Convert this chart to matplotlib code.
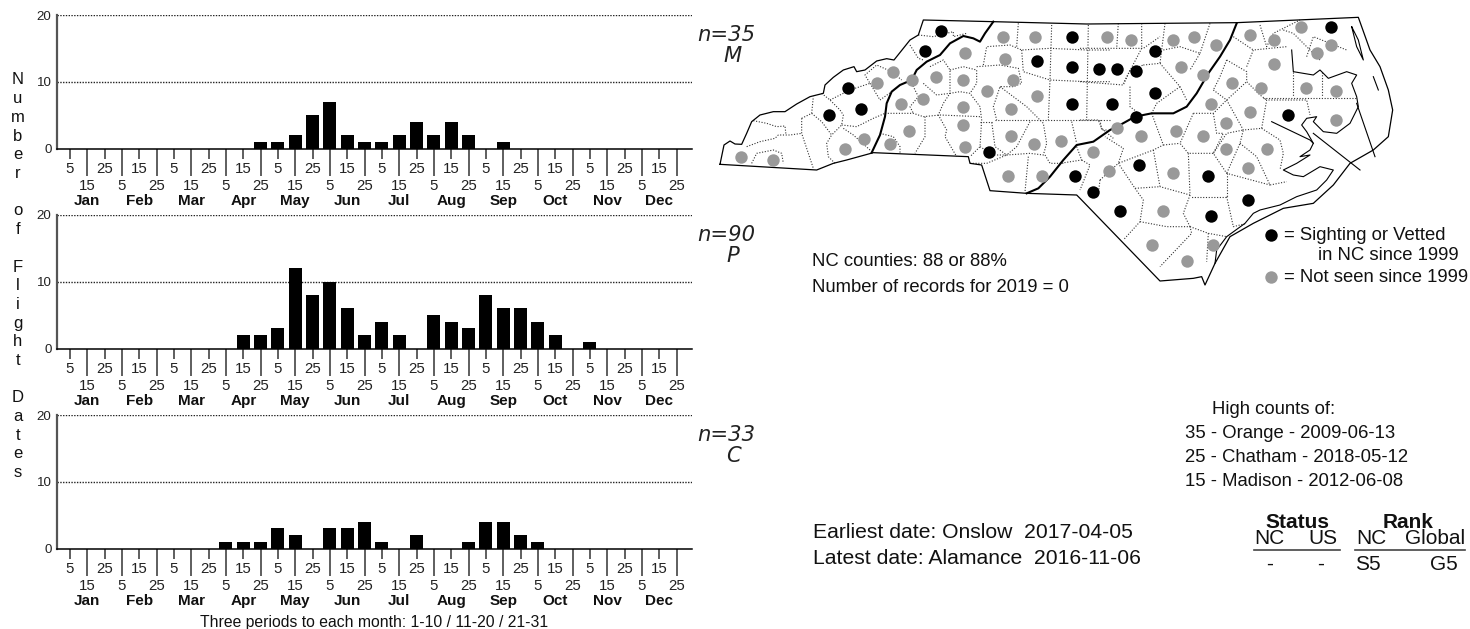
import matplotlib
matplotlib.use('Agg')
import matplotlib.pyplot as plt
from matplotlib.transforms import blended_transform_factory

plt.rcParams['font.family'] = ['Liberation Sans', 'DejaVu Sans']

W, H = 1470, 629

period_ticks = [5, 15, 25] * 12
months = ['Jan', 'Feb', 'Mar', 'Apr', 'May', 'Jun', 'Jul', 'Aug', 'Sep', 'Oct', 'Nov', 'Dec']

counts_m = [0]*11 + [1, 1, 2, 5, 7, 2, 1, 1, 2, 4, 2, 4, 2, 0, 1] + [0]*10
counts_p = [0]*10 + [2, 2, 3, 12, 8, 10, 6, 2, 4, 2, 0, 5, 4, 3, 8, 6, 6, 4, 2, 0, 1] + [0]*5
counts_c = [0]*9 + [1, 1, 1, 3, 2, 0, 3, 3, 4, 1, 0, 2, 0, 0, 1, 4, 4, 2, 1] + [0]*8

seasons = [('n=35', 'M', counts_m), ('n=90', 'P', counts_p), ('n=33', 'C', counts_c)]

# county dots, picture pixels
black_x = [941, 925, 848, 861, 829, 989, 1072, 1037, 1072, 1099, 1072, 1075, 1093, 1331, 1155, 1117, 1136, 1155, 1112, 1136, 1288, 1139, 1208, 1248, 1120, 1211]
black_y = [31, 51, 88, 109, 115, 152, 37, 61, 67, 69, 104, 176, 192, 27, 51, 69, 71, 93, 104, 117, 115, 165, 176, 200, 211, 216]
grey_x = [741, 773, 877, 893, 912, 936, 965, 1003, 1035, 1107, 1005, 963, 1013, 987, 1037, 901, 923, 963, 1011, 963, 909, 1011, 864, 890, 1034, 1061, 845, 965, 1093, 1008, 1042, 1109,
          1131, 1173, 1194, 1216, 1250, 1274, 1301, 1331, 1317, 1181, 1274, 1203, 1232, 1261, 1306, 1336, 1211, 1250, 1336, 1226, 1117, 1141, 1176, 1203, 1226, 1267, 1248, 1173, 1163, 1152, 1213, 1187]
grey_y = [157, 160, 83, 72, 80, 77, 53, 37, 37, 37, 59, 80, 80, 91, 96, 104, 99, 107, 109, 125, 131, 136, 139, 144, 144, 141, 149, 147, 152, 176, 176, 171,
          40, 40, 37, 45, 35, 40, 27, 45, 53, 67, 64, 75, 83, 88, 88, 91, 104, 112, 120, 123, 128, 136, 131, 136, 149, 149, 168, 173, 211, 245, 245, 261]

def west(pts):
    return [(710 + x / 3, y / 3) for x, y in pts]

def east(pts):
    return [(1080 + x / 3, y / 3) for x, y in pts]

border = (west([(30, 493), (42, 435), (60, 423), (75, 432), (95, 433), (110, 400), (125, 365), (150, 345), (190, 335), (225, 335), (260, 312), (300, 290), (340, 280), (345, 255), (370, 232), (400, 210), (432, 200), (440, 215), (465, 210), (500, 183), (530, 176), (552, 180), (580, 145), (600, 120), (625, 105), (640, 60), (850, 65), (1130, 72)])
          + east([(470, 68), (835, 52), (870, 150), (900, 200), (925, 270), (938, 330), (925, 410), (880, 450), (810, 490), (760, 555), (700, 610), (610, 625), (520, 670), (450, 710), (405, 790), (375, 855), (365, 830), (340, 835), (240, 843), (0, 595)])
          + west([(1100, 585), (950, 580), (840, 572), (815, 495), (780, 490), (775, 470), (490, 458), (410, 480), (370, 490), (320, 510), (30, 493)]))

fall_lines = [
    west([(850, 65), (825, 100), (810, 125), (790, 115), (760, 108), (720, 130), (690, 165), (650, 185), (620, 210), (605, 240), (570, 255), (545, 275), (530, 310), (525, 350), (510, 405), (485, 458)]),
    east([(470, 70), (450, 120), (420, 170), (385, 220), (350, 280), (320, 320), (280, 340), (215, 340), (165, 350), (120, 375), (90, 390)])
    + west([(1150, 425), (1100, 435), (1060, 480), (1020, 530), (985, 565), (950, 580)]),
]

coast_lines = [
    east([(635, 150), (640, 215), (700, 225), (720, 210), (745, 235), (800, 215), (830, 225), (815, 250), (830, 290), (835, 320), (810, 370), (770, 400), (730, 395), (700, 365), (710, 350), (680, 355), (665, 375), (680, 395), (700, 430), (690, 450), (660, 470), (690, 465), (650, 490), (610, 510), (640, 525), (670, 530), (720, 500), (760, 510), (740, 540), (710, 570), (650, 590), (600, 615), (540, 630), (520, 640), (495, 670), (440, 710), (410, 750), (405, 790)]),
    east([(575, 365), (690, 420), (700, 430)]),
    east([(700, 400), (840, 510)]),
    east([(830, 310), (885, 470)]),
    east([(815, 80), (830, 140), (850, 180), (835, 120), (815, 80)]),
    east([(880, 230), (895, 270)]),
]

county_lines = [
    west([(110, 440), (150, 425), (195, 415), (205, 405), (240, 405), (275, 400)]),
    west([(130, 362), (170, 370), (200, 380), (225, 378), (228, 405)]),
    west([(125, 490), (140, 460), (190, 450), (215, 460), (220, 490)]),
    west([(275, 355), (275, 400), (295, 460), (310, 505)]),
    west([(275, 355), (305, 340), (310, 290)]),
    west([(305, 340), (335, 365), (365, 405), (350, 430), (355, 470), (375, 490)]),
    west([(360, 300), (420, 270), (480, 250), (465, 225), (500, 195), (545, 215), (575, 240)]),
    west([(335, 280), (360, 300), (390, 330), (400, 345), (395, 375), (365, 405)]),
    west([(395, 375), (440, 380), (490, 355), (525, 340)]),
    west([(400, 385), (430, 405), (480, 450)]),
    west([(480, 250), (510, 300), (545, 275)]),
    west([(600, 135), (625, 175), (640, 180)]),
    west([(625, 105), (670, 110), (730, 95), (730, 110), (770, 100)]),
    west([(605, 250), (625, 290), (600, 320), (610, 340)]),
    west([(525, 340), (610, 340), (640, 350), (690, 345), (810, 350)]),
    west([(645, 350), (645, 410), (615, 460)]),
    west([(510, 400), (550, 410), (570, 440), (570, 460)]),
    west([(640, 250), (680, 285), (720, 280), (700, 310), (685, 345), (710, 390), (705, 410), (740, 470)]),
    west([(660, 200), (700, 180), (720, 210), (720, 280), (750, 275), (780, 280), (810, 320), (815, 360), (810, 440), (780, 470)]),
    west([(720, 210), (760, 200), (800, 210), (800, 250), (780, 280)]),
    west([(800, 200), (870, 195), (925, 205), (935, 250), (910, 260), (870, 260), (850, 320), (860, 360)]),
    west([(820, 195), (830, 140), (900, 135), (935, 150), (1020, 145), (1130, 150), (1200, 150)]),
    west([(925, 70), (920, 140)]),
    west([(1025, 75), (1020, 240), (1015, 360)]),
    west([(1135, 75), (1130, 360)]),
    west([(935, 150), (940, 215), (1020, 240), (1130, 245), (1200, 245)]),
    west([(870, 260), (950, 320), (1000, 370), (1010, 430), (1000, 465), (960, 460), (890, 465), (855, 440), (845, 365)]),
    west([(960, 365), (920, 440), (890, 465)]),
    west([(855, 360), (1200, 360)]),
    west([(810, 365), (845, 365)]),
    west([(810, 440), (850, 465), (890, 465)]),
    west([(780, 490), (830, 490), (890, 465)]),
    west([(955, 470), (945, 575)]),
    west([(1005, 465), (1020, 490), (1060, 490)]),
    west([(1085, 365), (1100, 430)]),
    west([(1100, 440), (1115, 480), (1050, 490)]),
    west([(1115, 480), (1140, 495), (1110, 570)]),
    west([(1170, 360), (1175, 390), (1195, 390)]),
    east([(115, 70), (110, 145)]),
    east([(185, 70), (185, 145), (130, 250)]),
    east([(0, 145), (190, 145), (240, 110)]),
    east([(255, 70), (250, 110), (240, 190)]),
    east([(390, 70), (360, 160)]),
    east([(250, 150), (300, 140), (360, 160), (330, 210)]),
    east([(190, 195), (240, 190), (300, 260), (320, 300)]),
    east([(0, 245), (130, 255), (150, 210), (190, 195)]),
    east([(150, 260), (150, 320), (170, 335)]),
    east([(0, 360), (55, 360), (65, 385), (100, 415)]),
    east([(300, 260), (230, 310), (215, 340)]),
    east([(215, 340), (250, 435), (220, 450), (115, 490), (130, 445), (75, 410)]),
    east([(340, 340), (300, 430), (325, 460), (400, 460), (440, 520), (570, 555)]),
    east([(250, 435), (300, 430)]),
    east([(340, 340), (400, 340), (440, 300), (500, 245)]),
    east([(400, 270), (440, 300), (490, 390), (545, 385), (560, 300), (680, 300), (690, 345)]),
    east([(400, 340), (410, 400), (430, 400), (400, 460)]),
    east([(400, 460), (440, 400), (490, 390), (480, 430), (440, 520)]),
    east([(440, 180), (420, 230), (400, 270)]),
    east([(440, 180), (500, 215), (500, 245), (540, 285), (560, 300)]),
    east([(500, 200), (520, 150), (620, 140)]),
    east([(460, 110), (520, 150)]),
    east([(640, 215), (640, 290)]),
    east([(725, 215), (725, 290)]),
    east([(550, 295), (830, 295)]),
    east([(545, 385), (600, 420), (610, 460), (600, 510)]),
    east([(480, 430), (530, 470), (570, 555), (620, 545)]),
    east([(220, 450), (240, 560), (165, 565), (115, 490)]),
    east([(60, 540), (115, 490)]),
    east([(60, 540), (55, 580)]),
    east([(325, 460), (330, 585), (240, 560)]),
    east([(165, 565), (190, 600), (180, 665), (130, 720)]),
    east([(330, 585), (310, 640), (330, 680)]),
    east([(180, 665), (260, 680), (330, 680), (335, 700), (240, 800)]),
    east([(440, 520), (440, 590), (330, 590)]),
    east([(440, 590), (460, 680), (500, 670)]),
    east([(330, 680), (385, 700), (440, 710)]),
    east([(385, 700), (380, 785)]),
    east([(610, 90), (640, 100), (720, 180)]),
    east([(680, 170), (700, 110), (800, 150)]),
    east([(540, 75), (560, 140), (580, 100), (660, 60)]),
]

fig = plt.figure(figsize=(W / 100, H / 100), dpi=100)

# whole-figure layer in pixel units for map and notes
bg = fig.add_axes([0, 0, 1, 1])
bg.set_xlim(0, W)
bg.set_ylim(H, 0)
bg.axis('off')

for line in county_lines:
    bg.plot(*zip(*line), color='#333333', lw=0.8, ls=(0, (1, 1.5)), zorder=1)
for line in coast_lines:
    bg.plot(*zip(*line), color='black', lw=0.8, zorder=2)
bg.plot(*zip(*border), color='black', lw=0.9, zorder=2)
for line in fall_lines:
    bg.plot(*zip(*line), color='black', lw=1.5, zorder=3)

bg.scatter(grey_x, grey_y, s=80, color='#999999', lw=0, zorder=4)
bg.scatter(black_x, black_y, s=80, color='black', lw=0, zorder=5)
bg.scatter([1271], [277], s=80, color='#999999', lw=0, zorder=4)
bg.scatter([1271], [235], s=80, color='black', lw=0, zorder=5)

def note(x, y, s, size=13.3, ha='left', **kw):
    bg.text(x, y, s, fontsize=size, ha=ha, va='center', color='#111111', **kw)

note(1284, 235, '= Sighting or Vetted', 13.3)
note(1318, 256, 'in NC since 1999', 13.3)
note(1284, 277, '= Not seen since 1999', 13.3)
note(812, 261, 'NC counties: 88 or 88%')
note(812, 287, 'Number of records for 2019 = 0')
note(1212, 410, 'High counts of:')
note(1185, 433, '35 - Orange - 2009-06-13')
note(1185, 457, '25 - Chatham - 2018-05-12')
note(1185, 481, '15 - Madison - 2012-06-08')
note(813, 532, 'Earliest date: Onslow  2017-04-05', 15.25)
note(813, 558, 'Latest date: Alamance  2016-11-06', 15.25)
note(1297, 522, 'Status', 15, ha='center', fontweight='bold')
note(1408, 522, 'Rank', 15, ha='center', fontweight='bold')
note(1269, 539, 'NC', 15, ha='center')
note(1323, 539, 'US', 15, ha='center')
note(1371, 539, 'NC', 15, ha='center')
note(1435, 539, 'Global', 15, ha='center')
note(1270, 564, '-', 15, ha='center')
note(1321, 564, '-', 15, ha='center')
note(1368, 564, 'S5', 15, ha='center')
note(1444, 564, 'G5', 15, ha='center')
bg.plot([1254, 1340], [550, 550], color='#444444', lw=1.2)
bg.plot([1355, 1465], [550, 550], color='#444444', lw=1.2)
note(374, 622, 'Three periods to each month: 1-10 / 11-20 / 21-31', 11.35, ha='center')

# vertical axis title, one letter per row
for i, c in enumerate('Number of Flight Dates'):
    if c != ' ':
        note(18, 80 + i * 18.7, c, 12, ha='center')

# three flight charts
ticks = list(range(36))
for k, (n_text, code, counts) in enumerate(seasons):
    top = 15 + 200 * k
    bottom = top + 133.5
    ax = fig.add_axes([57 / W, 1 - bottom / H, 635 / W, 133.5 / H])
    ax.patch.set_alpha(0)
    ax.bar(ticks, counts, width=0.75, color='black', zorder=3)
    ax.set_xlim(-0.75, 35.89)
    ax.set_ylim(0, 20)
    ax.set_yticks([0, 10, 20])
    ax.tick_params(axis='y', length=0, pad=4, labelsize=9.6, labelcolor='#222222')
    for v in (10, 20):
        ax.axhline(v, color='#222222', lw=1.0, ls=(0, (1, 1)), zorder=1)

    ax.set_xticks(ticks[1::2], [str(p) for p in period_ticks[1::2]])
    ax.set_xticks(ticks[0::2], [str(p) for p in period_ticks[0::2]], minor=True)
    ax.tick_params(axis='x', which='major', length=19.4, width=1.1, color='#333333', pad=2.5, labelsize=10.8, labelcolor='#222222')
    ax.tick_params(axis='x', which='minor', length=7.2, width=1.1, color='#333333', pad=2.5, labelsize=10.8, labelcolor='#222222')

    for s in ('top', 'right'):
        ax.spines[s].set_visible(False)
    ax.spines['left'].set_color('#555555')
    ax.spines['left'].set_linewidth(1.6)
    ax.spines['bottom'].set_color('black')
    ax.spines['bottom'].set_linewidth(1.1)

    tr = blended_transform_factory(ax.transData, ax.transAxes)
    for m, name in enumerate(months):
        ax.annotate(name, (3 * m + 1, 0), xycoords=tr, xytext=(0, -37.8), textcoords='offset points',
                    ha='center', va='center', fontsize=11, fontweight='bold', color='#111111')

    bg.text(726, top + 20, n_text, fontsize=15.2, ha='center', va='center', style='italic', family='DejaVu Sans', color='#222222')
    bg.text(733, top + 41, code, fontsize=15.2, ha='center', va='center', style='italic', family='DejaVu Sans', color='#222222')

fig.savefig('out.png', dpi=100)
